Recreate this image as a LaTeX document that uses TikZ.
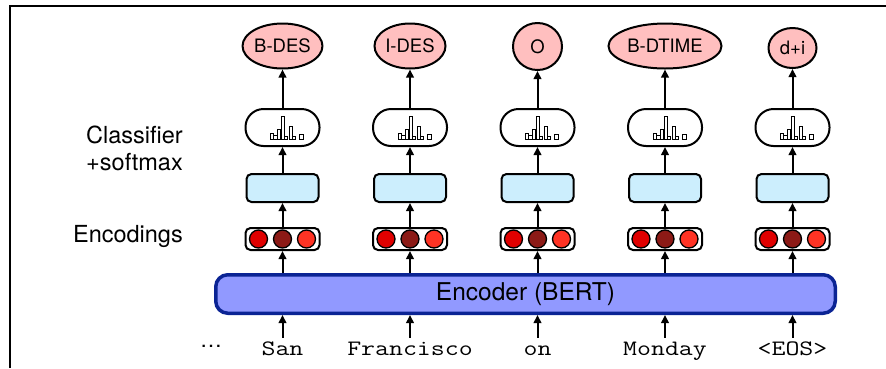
\documentclass[tikz,border=0pt]{standalone}
\usepackage{fontspec}
\setmainfont{TeX Gyre Heros}
\setmonofont[FakeStretch=1.23]{Latin Modern Mono}
\usetikzlibrary{shapes.geometric,arrows.meta}

\definecolor{tagpink}{HTML}{FFBFBF}
\definecolor{boxcyan}{HTML}{CCEEFD}
\definecolor{bertfill}{HTML}{9199FF}
\definecolor{bertline}{HTML}{0B2494}
\definecolor{dotA}{HTML}{E00000}
\definecolor{dotB}{HTML}{8C1A16}
\definecolor{dotC}{HTML}{FF3324}

\tikzset{
  tag/.style={draw, line width=2pt, fill=tagpink, ellipse, inner sep=0pt,
    minimum height=45pt, font=\fontsize{18.5}{20}\selectfont},
  classbox/.style={draw, line width=2pt, fill=white, rounded corners=18pt,
    minimum width=74pt, minimum height=37pt},
  layerbox/.style={draw, line width=2pt, fill=boxcyan, rounded corners=5pt,
    minimum width=72pt, minimum height=28pt},
  enc/.style={draw, line width=2pt, fill=white, rounded corners=5pt,
    minimum width=74pt, minimum height=22pt},
  dot/.style={draw, line width=1.3pt, circle, inner sep=0pt, minimum size=18pt},
  bert/.style={draw=bertline, line width=3.5pt, fill=bertfill, rounded corners=12pt,
    minimum width=619.5pt, minimum height=38.5pt, font=\fontsize{24.5}{26}\selectfont},
  word/.style={anchor=base, inner sep=2pt, text height=15pt, text depth=4pt,
    font=\ttfamily\fontsize{22}{24}\selectfont},
  lbl/.style={font=\fontsize{23.5}{27}\selectfont, inner sep=0pt},
  arr/.style={-{Triangle[length=8pt,width=7.5pt]}, line width=2pt},
  hist/.pic={
    \foreach \a/\b/\h in {-12/-9/6, -9/-5/4, -5/-2/10, -1/2/23, 2/5/3, 7/10/13, 10/13/3, 17/21/5}
      \draw[line width=0.8pt, fill=white] (\a,11.5) rectangle (\b,{11.5-\h});
  }
}

\begin{document}
\begin{tikzpicture}[x=1pt,y=-1pt]
  \useasboundingbox (0,0) rectangle (886,368);
  \draw[line width=1.2pt] (10,368) -- (10,6) -- (886,6);

  % row labels
  \node[lbl, align=right, anchor=base east] (lblcls) at (183,170) {Classifier\\+softmax};
  \node[lbl, anchor=base east] (lblenc) at (183,242) {Encodings};

  % encoder
  \node[bert] (bert) at (525.5,294) {Encoder (BERT)};

  % input words
  \node[font=\fontsize{22}{24}\selectfont, anchor=base] (dots) at (211,347) {\dots};
  \node[word] (w1) at (282.5,355) {San};
  \node[word] (w2) at (410,355) {Francisco};
  \node[word] (w3) at (537.5,355) {on};
  \node[word] (w4) at (665,355) {Monday};
  \node[word] (w5) at (792.5,355) {<EOS>};

  % encodings
  \node[enc] (e1) at (282.5,239) {};
  \node[enc] (e2) at (410,239) {};
  \node[enc] (e3) at (537.5,239) {};
  \node[enc] (e4) at (665,239) {};
  \node[enc] (e5) at (792.5,239) {};
  \foreach \n in {1,...,5} {
    \node[dot, fill=dotA] (e\n a) at ([xshift=-24pt]e\n.center) {};
    \node[dot, fill=dotB] (e\n b) at (e\n.center) {};
    \node[dot, fill=dotC] (e\n c) at ([xshift=24pt]e\n.center) {};
  }

  % layer boxes
  \node[layerbox] (b1) at (282.5,188) {};
  \node[layerbox] (b2) at (410,188) {};
  \node[layerbox] (b3) at (537.5,188) {};
  \node[layerbox] (b4) at (665,188) {};
  \node[layerbox] (b5) at (792.5,188) {};

  % classifiers
  \node[classbox] (c1) at (282.5,127.5) {};
  \node[classbox] (c2) at (410,127.5) {};
  \node[classbox] (c3) at (537.5,127.5) {};
  \node[classbox] (c4) at (665,127.5) {};
  \node[classbox] (c5) at (792.5,127.5) {};
  \foreach \n in {1,...,5}
    \pic at (c\n.center) {hist};

  % output tags
  \node[tag, minimum width=76pt] (t1) at (282.5,46) {B-DES};
  \node[tag, minimum width=71pt] (t2) at (410,46) {I-DES};
  \node[tag, minimum width=49pt, minimum height=47pt] (t3) at (537.5,46.5) {O};
  \node[tag, minimum width=113pt] (t4) at (665,46) {B-DTIME};
  \node[tag, minimum width=48pt, minimum height=40pt] (t5) at (792.5,48) {d+i};

  % connectors
  \foreach \n in {1,...,5} {
    \draw[arr] (w\n.north) -- (w\n.north |- bert.south);
    \draw[arr] (e\n |- bert.north) -- (e\n.south);
    \draw[arr] (e\n.north) -- (b\n.south);
    \draw[arr] (b\n.north) -- (c\n.south);
    \draw[arr] (c\n.north) -- (t\n.south);
  }
\end{tikzpicture}
\end{document}
